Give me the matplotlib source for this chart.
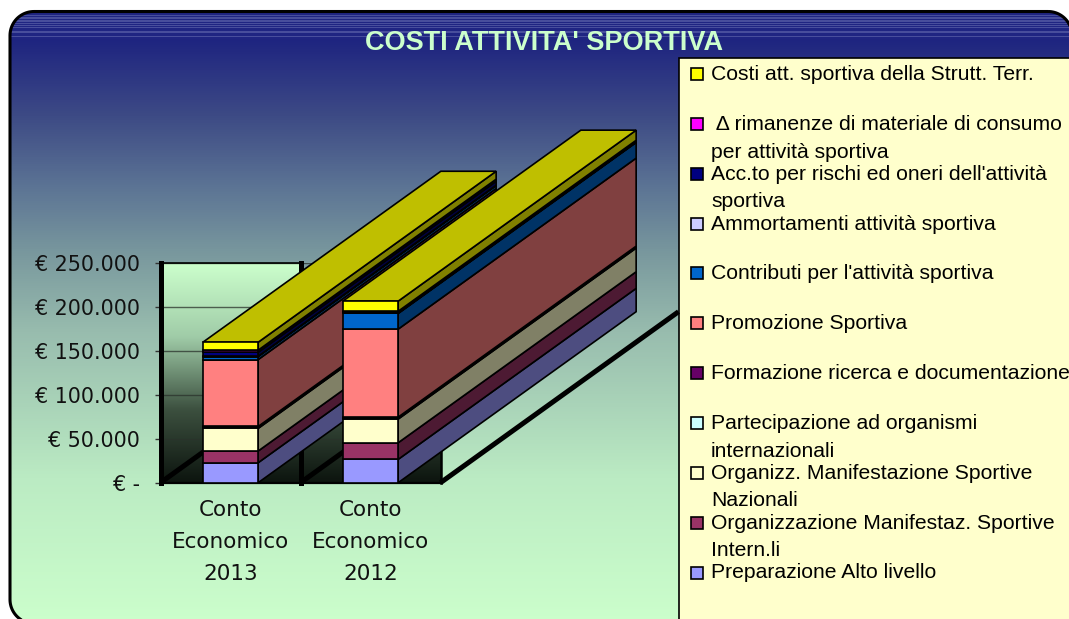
#!/usr/bin/env python3
import matplotlib
matplotlib.use('Agg')
import matplotlib.pyplot as plt
import numpy as np
from matplotlib.colors import LinearSegmentedColormap
from matplotlib.patches import Polygon, Rectangle

# values, bottom of the stack first
categories = ['Conto\nEconomico\n2013', 'Conto\nEconomico\n2012']
preparazione = [22700, 26500]
org_intern = [13300, 18900]
org_naz = [25700, 26900]
partecipazione = [1200, 1200]
formazione = [1000, 1000]
promozione = [76000, 100000]
contributi = [3500, 17800]
ammortamenti = [300, 500]
accantonamenti = [4500, 1000]
rimanenze = [2400, 1000]
strutt_terr = [9000, 11500]

series = [preparazione, org_intern, org_naz, partecipazione, formazione, promozione,
          contributi, ammortamenti, accantonamenti, rimanenze, strutt_terr]
colors = ['#9999FF', '#993366', '#FFFFCC', '#CCFFFF', '#660066', '#FF8080',
          '#0066CC', '#CCCCFF', '#000080', '#FF00FF', '#FFFF00']
legend_labels = ['Preparazione Alto livello',
                 'Organizzazione Manifestaz. Sportive\nIntern.li',
                 'Organizz. Manifestazione Sportive\nNazionali',
                 'Partecipazione ad organismi\ninternazionali',
                 'Formazione ricerca e documentazione',
                 'Promozione Sportiva',
                 "Contributi per l'attività sportiva",
                 'Ammortamenti attività sportiva',
                 "Acc.to per rischi ed oneri dell'attività\nsportiva",
                 ' Δ rimanenze di materiale di consumo\nper attività sportiva',
                 'Costi att. sportiva della Strutt. Terr.']
yticks = [0, 50000, 100000, 150000, 200000, 250000]
ytick_labels = ['€ -', '€ 50.000', '€ 100.000', '€ 150.000', '€ 200.000', '€ 250.000']
stripes = [15.3, 16.8, 18.4, 20, 21.4, 23.4, 25, 26.6, 30.6, 32, 35.6]

W, H = 1069, 619
fig = plt.figure(figsize=(W / 100, H / 100), dpi=100, facecolor='white')


def rounded_rect(x0, y0, x1, y1, r):
    pts = []
    corners = [(x1 - r, y0 + r, -90), (x1 - r, y1 - r, 0), (x0 + r, y1 - r, 90), (x0 + r, y0 + r, 180)]
    for cx, cy, start in corners:
        t = np.radians(np.linspace(start, start + 90, 24))
        pts += list(zip(cx + r * np.cos(t), cy + r * np.sin(t)))
    return pts


# background, frame, title and legend are laid out in pixels
bg = fig.add_axes([0, 0, 1, 1], zorder=0)
bg.set_xlim(0, W)
bg.set_ylim(H, 0)
bg.axis('off')
frame = Polygon(rounded_rect(10, 11.5, 1072, 623.5, 24), closed=True, facecolor='none',
                edgecolor='black', linewidth=2.2, zorder=5)
bg.add_patch(frame)
bg_cmap = LinearSegmentedColormap.from_list('bg', [
    (0.0, '#1E2480'), (0.13, '#3D4A85'), (0.25, '#5B7394'), (0.37, '#7A999E'),
    (0.50, '#98BCAE'), (0.75, '#BBEBC3'), (1.0, '#CCFFCC')])
grad = np.linspace(0, 1, 512).reshape(-1, 1)
im = bg.imshow(grad, extent=[0, W, 625, 38], cmap=bg_cmap, aspect='auto', zorder=1)
im.set_clip_path(frame)
bg.set_xlim(0, W)
bg.set_ylim(H, 0)
top = bg.add_patch(Rectangle((0, 0), W, 38.5, facecolor='#1F2582', edgecolor='none', zorder=1))
top.set_clip_path(frame)
for y in stripes:
    ln, = bg.plot([0, W], [y, y], color='#555BA5', lw=0.55, zorder=2)
    ln.set_clip_path(frame)

bg.text(544, 42.5, "COSTI ATTIVITA' SPORTIVA", family='Liberation Sans', fontweight='bold',
        fontsize=19.5, color='#CCFFCC', ha='center', va='center', zorder=6)

# the legend box runs off the picture and covers the frame there
bg.add_patch(Rectangle((679, 58), 500, 700, facecolor='#FFFFCC', edgecolor='black',
                       linewidth=1.2, zorder=6))
for i, (label, c) in enumerate(zip(legend_labels[::-1], colors[::-1])):
    y = 74 + i * 49.85
    bg.add_patch(Rectangle((690.5, y - 6), 12, 12, facecolor=c, edgecolor='black',
                           linewidth=1.2, zorder=7))
    bg.text(711, y - 9, label, family='Liberation Sans', fontsize=15.2, color='black',
            ha='left', va='top', linespacing=1.58, zorder=7)

# chart axes: y in euro, x in category slots, the depth is an offset in data units
ax = fig.add_axes([160.5 / W, 1 - 482.7 / H, 280 / W, 220 / H], zorder=1)
ax.patch.set_alpha(0)
for s in ax.spines.values():
    s.set_visible(False)
depth_x = 238 / 140
depth_y = 171 / 220 * 250000
bar_w = 0.395

wall_cmap = LinearSegmentedColormap.from_list('wall', ['#0C140E', '#3C503F', '#A0CCA8', '#CCFFCC'])
ax.imshow(np.linspace(1, 0, 256).reshape(-1, 1), extent=[-0.5, 0.5, 0, 250000], cmap=wall_cmap,
          vmin=0, vmax=1, aspect='auto', zorder=0)
ax.imshow(np.linspace(0.8, 0, 256).reshape(-1, 1), extent=[0.5, 1.5, 0, 200000], cmap=wall_cmap,
          vmin=0, vmax=1, aspect='auto', zorder=0)

# floor, only the part right of the wall shows, fading out towards the back
floor_rgba = np.ones((256, 1, 4))
floor_rgba[:, 0, 3] = np.linspace(0, 0.35, 256)
floor_clip = Polygon([(1.5, 0), (1.5 + depth_x, depth_y), (1.5, depth_y)],
                     transform=ax.transData)
floor_im = ax.imshow(floor_rgba, extent=[1.5, 1.5 + depth_x, 0, depth_y], aspect='auto', zorder=1)
floor_im.set_clip_path(floor_clip)

ax.set_xlim(-0.5, 1.5)
ax.set_ylim(0, 250000)
ax.grid(axis='y', color='#2A322B', alpha=0.75, lw=1.0)
ax.set_axisbelow('line')

for x in [-0.5, 0.5, 1.5]:
    ax.plot([x, x + depth_x], [0, depth_y], color='black', lw=3.6, clip_on=False, zorder=2,
            solid_capstyle='butt')
ax.plot([-0.5, -0.5], [0, 250000], color='black', lw=3.6, clip_on=False, zorder=2)
ax.plot([0.5, 0.5], [0, 250000], color='black', lw=3.6, clip_on=False, zorder=2)
ax.plot([1.5, 1.5], [0, 200000], color='black', lw=1.8, clip_on=False, zorder=2)
ax.plot([-0.5, 1.5], [0, 0], color='black', lw=1.6, clip_on=False, zorder=2)
ax.plot([-0.5, 0.5], [250000, 250000], color='black', lw=1.2, clip_on=False, zorder=2)


def shade(c, f):
    rgb = np.array(matplotlib.colors.to_rgb(c)) * f
    return tuple(rgb)


for j in range(len(categories)):
    z = 3 + j * 3
    left = j - bar_w / 2
    right = j + bar_w / 2
    bottom = 0
    for vals, c in zip(series, colors):
        v = vals[j]
        ax.fill([right, right + depth_x, right + depth_x, right],
                [bottom, bottom + depth_y, bottom + v + depth_y, bottom + v],
                facecolor=shade(c, 0.5), edgecolor='black', lw=1.2, clip_on=False, zorder=z)
        ax.bar(j, v, bar_w, bottom=bottom, color=c, edgecolor='black', lw=1.2, clip_on=False,
               zorder=z + 2)
        bottom += v
    ax.fill([left, right, right + depth_x, left + depth_x],
            [bottom, bottom, bottom + depth_y, bottom + depth_y],
            facecolor=shade(colors[-1], 0.75), edgecolor='black', lw=1.2, clip_on=False,
            zorder=z + 1)

ax.set_yticks(yticks)
ax.set_yticklabels(ytick_labels, family='DejaVu Sans', fontsize=14.9, color='#111111')
ax.set_xticks(range(len(categories)))
ax.set_xticklabels(categories, family='DejaVu Sans', fontsize=15.5, color='#111111', linespacing=1.75)
ax.tick_params(axis='y', length=4, width=1, color='#333333', pad=10.7)
ax.tick_params(axis='x', length=0, pad=12.5)

plt.savefig('out.png', dpi=100, facecolor='white')
